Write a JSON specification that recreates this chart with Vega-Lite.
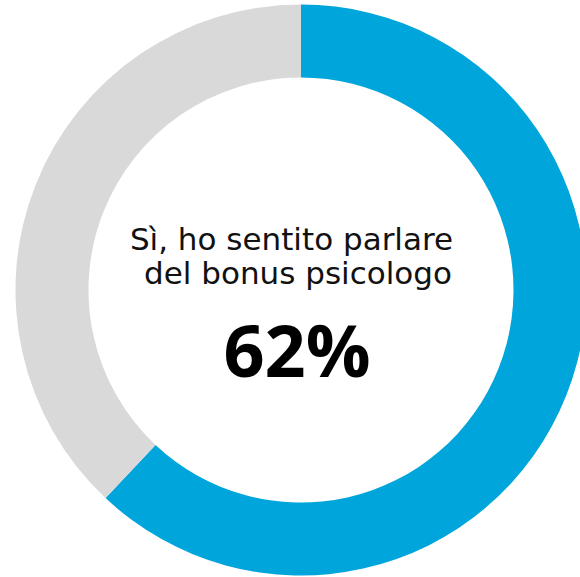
{
  "$schema": "https://vega.github.io/schema/vega-lite/v6.json",
  "width": 602,
  "height": 580,
  "padding": 0,
  "autosize": {"type": "none"},
  "background": "white",
  "config": {"view": {"stroke": null}},
  "layer": [
    {
      "data": {"values": [
        {"category": "Sì", "value": 62, "order": 1},
        {"category": "No", "value": 38, "order": 2}
      ]},
      "mark": {"type": "arc", "outerRadius": 285.5, "innerRadius": 212.5},
      "encoding": {
        "theta": {"field": "value", "type": "quantitative", "stack": true},
        "order": {"field": "order", "type": "ordinal"},
        "color": {
          "field": "category",
          "type": "nominal",
          "scale": {"domain": ["Sì", "No"], "range": ["#00A6DB", "#D9D9D9"]},
          "legend": null
        }
      }
    },
    {
      "data": {"values": [{"label": "Sì, ho sentito parlare"}]},
      "mark": {"type": "text", "font": "DejaVu Sans", "fontSize": 31, "color": "#111111", "baseline": "alphabetic", "align": "center", "dx": -9.5, "dy": -40},
      "encoding": {"text": {"field": "label"}}
    },
    {
      "data": {"values": [{"label": "del bonus psicologo"}]},
      "mark": {"type": "text", "font": "DejaVu Sans", "fontSize": 31, "color": "#111111", "baseline": "alphabetic", "align": "center", "dx": -3, "dy": -6},
      "encoding": {"text": {"field": "label"}}
    },
    {
      "data": {"values": [{"label": "62%"}]},
      "mark": {"type": "text", "font": "Open Sans", "fontSize": 72, "fontWeight": "bold", "color": "#000000", "baseline": "alphabetic", "align": "center", "dx": -4, "dy": 87},
      "encoding": {"text": {"field": "label"}}
    }
  ]
}
